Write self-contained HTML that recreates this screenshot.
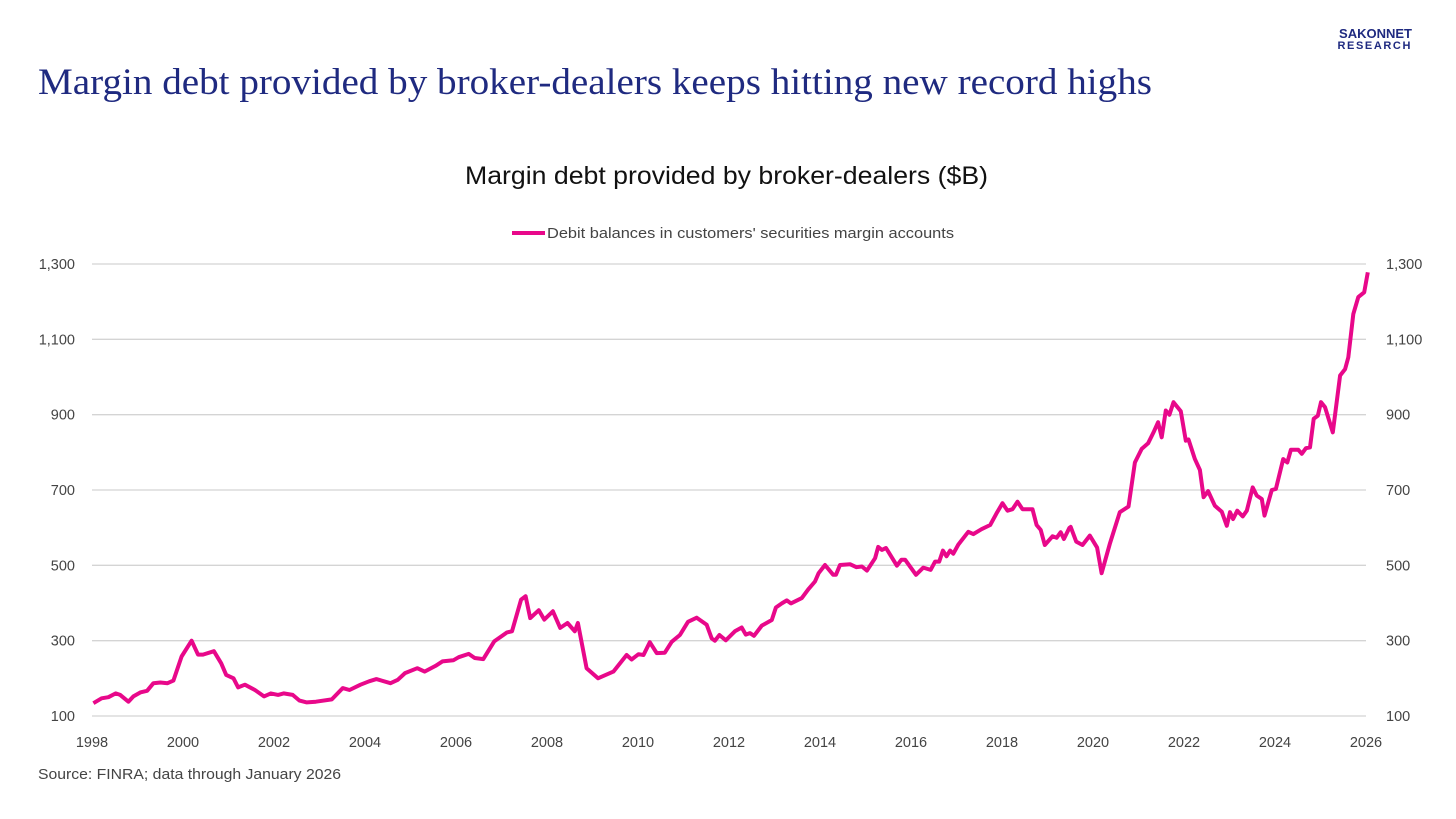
<!DOCTYPE html>
<html><head><meta charset="utf-8"><style>
body{margin:0;width:1456px;height:819px;background:#fff;overflow:hidden;font-family:"Liberation Sans",sans-serif}
svg{position:absolute;left:0;top:0}
</style></head><body>
<svg id="chart" width="1456" height="819">
<text x="38" y="94" font-family="Liberation Serif,serif" font-size="37" fill="#1f2a80" textLength="1114" lengthAdjust="spacingAndGlyphs">Margin debt provided by broker-dealers keeps hitting new record highs</text>
<text x="1412" y="38" text-anchor="end" font-family="Liberation Sans,sans-serif" font-weight="bold" font-size="13" fill="#1f2a80">SAKONNET</text>
<text x="1412" y="49" text-anchor="end" font-family="Liberation Sans,sans-serif" font-weight="bold" font-size="11" letter-spacing="1.6" fill="#1f2a80">RESEARCH</text>
<text x="465" y="184" font-size="25" fill="#111" textLength="523" lengthAdjust="spacingAndGlyphs">Margin debt provided by broker-dealers ($B)</text>
<line x1="512" y1="233" x2="545" y2="233" stroke="#e8088a" stroke-width="4"/>
<text x="547" y="238" font-size="15" fill="#444" textLength="407" lengthAdjust="spacingAndGlyphs">Debit balances in customers' securities margin accounts</text>
<g id="grid"></g><g id="axes"></g>
<text x="38" y="779" font-size="15" fill="#444" textLength="303" lengthAdjust="spacingAndGlyphs">Source: FINRA; data through January 2026</text>
</svg>
<script>
const dates=[1998.03,1998.21,1998.36,1998.52,1998.62,1998.8,1998.91,1999.07,1999.21,1999.35,1999.5,1999.66,1999.79,1999.97,2000.19,2000.33,2000.44,2000.68,2000.84,2000.95,2001.11,2001.21,2001.36,2001.58,2001.78,2001.93,2002.09,2002.21,2002.41,2002.56,2002.72,2002.92,2003.27,2003.51,2003.66,2003.9,2004.09,2004.25,2004.56,2004.72,2004.88,2005.15,2005.31,2005.55,2005.7,2005.94,2006.06,2006.28,2006.41,2006.6,2006.84,2007.12,2007.23,2007.43,2007.53,2007.63,2007.82,2007.94,2008.13,2008.29,2008.45,2008.61,2008.68,2008.87,2009.12,2009.46,2009.75,2009.86,2010.01,2010.12,2010.26,2010.41,2010.59,2010.74,2010.92,2011.1,2011.29,2011.51,2011.62,2011.69,2011.79,2011.93,2012.13,2012.28,2012.37,2012.46,2012.55,2012.72,2012.94,2013.03,2013.16,2013.27,2013.36,2013.6,2013.74,2013.89,2013.97,2014.11,2014.29,2014.35,2014.44,2014.66,2014.8,2014.92,2015.03,2015.21,2015.28,2015.36,2015.45,2015.69,2015.79,2015.87,2016.11,2016.27,2016.43,2016.53,2016.62,2016.7,2016.78,2016.86,2016.93,2017.04,2017.26,2017.37,2017.55,2017.74,2017.88,2018.01,2018.12,2018.23,2018.34,2018.45,2018.67,2018.76,2018.85,2018.94,2019.11,2019.2,2019.29,2019.36,2019.48,2019.51,2019.63,2019.77,2019.93,2020.09,2020.19,2020.37,2020.59,2020.78,2020.92,2021.07,2021.21,2021.33,2021.43,2021.51,2021.6,2021.68,2021.77,2021.93,2022.04,2022.1,2022.24,2022.35,2022.43,2022.53,2022.68,2022.83,2022.94,2023.01,2023.08,2023.17,2023.29,2023.38,2023.51,2023.6,2023.71,2023.77,2023.93,2024.02,2024.18,2024.27,2024.35,2024.51,2024.59,2024.68,2024.77,2024.85,2024.94,2025.01,2025.1,2025.27,2025.43,2025.54,2025.61,2025.72,2025.83,2025.96,2026.04];
const debit=[134,147,150,160,156,138,152,163,167,187,189,187,194,258,300,263,263,272,240,209,200,176,183,169,152,160,156,160,156,141,136,138,144,174,169,183,192,198,187,196,214,227,218,233,245,248,256,265,254,251,298,322,325,409,418,360,381,356,378,334,347,325,347,227,200,218,262,250,264,262,296,267,268,297,315,350,361,342,306,300,315,301,325,335,316,320,313,340,355,388,399,407,399,413,436,457,479,501,475,475,501,503,495,497,486,519,549,541,546,499,515,515,475,494,488,510,510,539,524,539,531,555,589,583,596,607,638,665,645,649,669,649,649,607,594,554,577,573,588,570,599,602,563,554,579,547,479,557,641,656,773,809,824,853,880,840,911,900,933,909,831,834,782,753,681,697,658,642,605,641,623,645,630,645,707,685,676,632,700,703,782,773,807,807,796,811,813,889,897,933,920,853,1004,1021,1052,1167,1212,1225,1278];
const yTicks=[100,300,500,700,900,1100,1300];
const yLabels=["100","300","500","700","900","1,100","1,300"];
const xTicks=[1998,2000,2002,2004,2006,2008,2010,2012,2014,2016,2018,2020,2022,2024,2026];
const NS="http://www.w3.org/2000/svg";
const X=v=>92+(v-1998)*(1366-92)/28;
const Y=v=>716-(v-100)*(716-264)/1200;
const grid=document.getElementById('grid'),axes=document.getElementById('axes');
function mk(t,a,p,txt){const e=document.createElementNS(NS,t);for(const k in a)e.setAttribute(k,a[k]);if(txt!==undefined)e.textContent=txt;p.appendChild(e);return e;}
yTicks.forEach((v,i)=>{
 const l=mk('line',{x1:92,x2:1366,y1:Y(v),y2:Y(v),stroke:'#d4d4d4','stroke-width':1.3},grid);
 
 
 const a=mk('text',{x:75,y:Y(v)+5,'text-anchor':'end','font-size':14.5,fill:'#444'},axes,yLabels[i]);
 
 
 const b=mk('text',{x:1386,y:Y(v)+5,'font-size':14.5,fill:'#444'},axes,yLabels[i]);
 
 
});
xTicks.forEach(v=>{
 const t=mk('text',{x:X(v),y:747,'text-anchor':'middle','font-size':14.5,fill:'#444'},axes,String(v));
 
 
});
const d=dates.map((t,i)=>(i?'L':'M')+X(t).toFixed(1)+','+Y(debit[i]).toFixed(1)).join('');
const p=mk('path',{d:d,fill:'none',stroke:'#e8088a','stroke-width':4,'stroke-linejoin':'round'},axes);


</script>
</body></html>
